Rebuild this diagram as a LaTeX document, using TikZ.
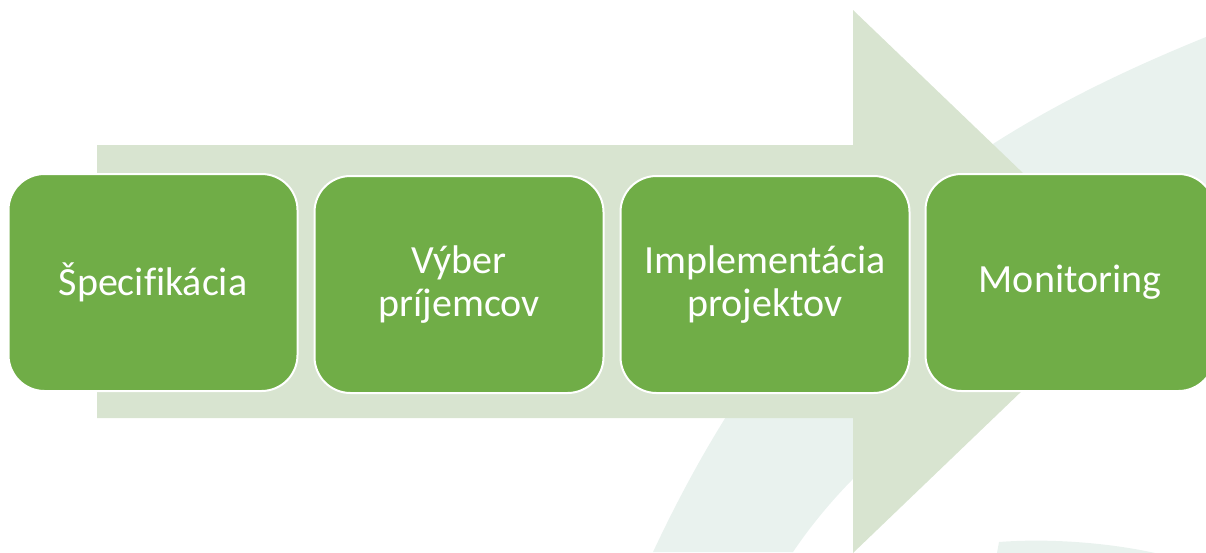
\documentclass[tikz,border=0pt]{standalone}
\usepackage{fontspec}
\setmainfont{Carlito}[Ligatures=NoCommon]
\definecolor{boxgreen}{RGB}{112,173,71}
\definecolor{arrowgreen}{RGB}{216,228,208}
\definecolor{swooshcol}{RGB}{233,242,238}
\begin{document}
\begin{tikzpicture}[x=1pt,y=-1pt,
  stepbox/.style={draw=white, line width=2pt, fill=boxgreen, rounded corners=36pt,
    minimum width=289pt, minimum height=217pt, text=white,
    font=\fontsize{40}{43.5}\selectfont, align=center, inner sep=0pt}]
\useasboundingbox (0,0) rectangle (1206,552);
\begin{scope}
\clip (0,0) rectangle (1206,552);
% background swoosh
\fill[swooshcol] (653,552) .. controls (789,262) and (957,138) .. (1206,37)
  -- (1206,290) .. controls (1140,310) and (1070,345) .. (1000,375)
  .. controls (900,420) and (830,497) .. (793,552) -- cycle;
\fill[swooshcol] (997,553) -- (999,542) .. controls (1050,538) and (1110,543) .. (1155,553) -- cycle;
% big arrow
\fill[arrowgreen] (97,145) -- (853,145) -- (853,10) -- (1136,281.5) -- (853,553)
  -- (853,418) -- (97,418) -- cycle;
% boxes
\node[stepbox] (b1) at (153,282.5) {Špecifikácia};
\node[stepbox] (b2) at (459,284.5) {Výber\\príjemcov};
\node[stepbox] (b3) at (765,284.5) {Implementácia\\projektov};
\node[stepbox] (b4) at (1070,282.5) {Monitoring};
\end{scope}
\end{tikzpicture}
\end{document}
